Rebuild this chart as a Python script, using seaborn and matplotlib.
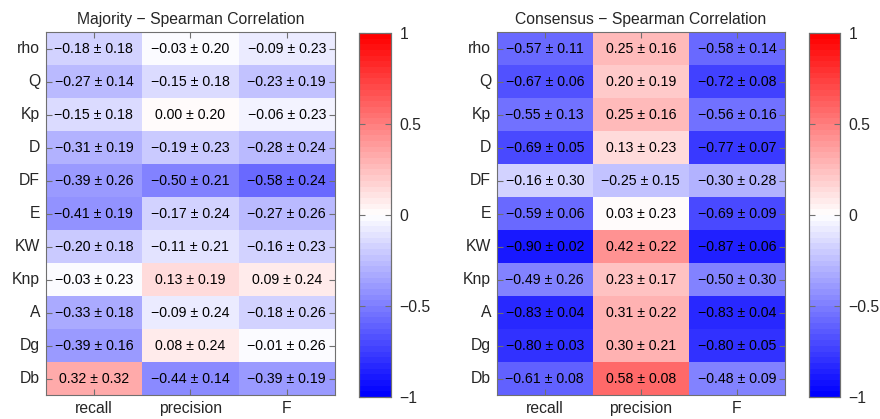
import numpy as np
import seaborn as sns
import matplotlib.pyplot as plt
from matplotlib.colors import LinearSegmentedColormap

rows = ["rho", "Q", "Kp", "D", "DF", "E", "KW", "Knp", "A", "Dg", "Db"]
cols = ["recall", "precision", "F"]

maj_mean = [[-0.18, -0.03, -0.09], [-0.27, -0.15, -0.23], [-0.15, 0.00, -0.06],
            [-0.31, -0.19, -0.28], [-0.39, -0.50, -0.58], [-0.41, -0.17, -0.27],
            [-0.20, -0.11, -0.16], [-0.03, 0.13, 0.09], [-0.33, -0.09, -0.18],
            [-0.39, 0.08, -0.01], [0.32, -0.44, -0.39]]
maj_std = [[0.18, 0.20, 0.23], [0.14, 0.18, 0.19], [0.18, 0.20, 0.23],
           [0.19, 0.23, 0.24], [0.26, 0.21, 0.24], [0.19, 0.24, 0.26],
           [0.18, 0.21, 0.23], [0.23, 0.19, 0.24], [0.18, 0.24, 0.26],
           [0.16, 0.24, 0.26], [0.32, 0.14, 0.19]]

con_mean = [[-0.57, 0.25, -0.58], [-0.67, 0.20, -0.72], [-0.55, 0.25, -0.56],
            [-0.69, 0.13, -0.77], [-0.16, -0.25, -0.30], [-0.59, 0.03, -0.69],
            [-0.90, 0.42, -0.87], [-0.49, 0.23, -0.50], [-0.83, 0.31, -0.83],
            [-0.80, 0.30, -0.80], [-0.61, 0.58, -0.48]]
con_std = [[0.11, 0.16, 0.14], [0.06, 0.19, 0.08], [0.13, 0.16, 0.16],
           [0.05, 0.23, 0.07], [0.30, 0.15, 0.28], [0.06, 0.23, 0.09],
           [0.02, 0.22, 0.06], [0.26, 0.17, 0.30], [0.04, 0.22, 0.04],
           [0.03, 0.21, 0.05], [0.08, 0.08, 0.09]]

sns.set_style("white")
plt.rcParams['font.family'] = ['Liberation Sans', 'DejaVu Sans']

cmap = LinearSegmentedColormap.from_list("bwr_m", ["#0000ff", "#ffffff", "#ff0000"], N=64)


def fmt(v):
    s = f"{abs(v):.2f}"
    return ("\u2212" + s) if v < 0 else s


def labels(m, s):
    return np.array([[f"{fmt(a)} \u00b1 {b:.2f}" for a, b in zip(ra, rb)]
                     for ra, rb in zip(m, s)])


fig = plt.figure(figsize=(8.8, 4.19), dpi=100)
W, H = 880, 419
edge = "#707070"


def panel(px, cx, mean, std, title):
    ax = fig.add_axes([px[0] / W, 1 - 395 / H, (px[1] - px[0]) / W, (395 - 32.5) / H])
    cax = fig.add_axes([cx[0] / W, 1 - 397 / H, (cx[1] - cx[0]) / W, (397 - 33) / H])
    sns.heatmap(np.array(mean), ax=ax, cbar_ax=cax, cmap=cmap, vmin=-1, vmax=1,
                annot=labels(mean, std), fmt="", annot_kws={"fontsize": 10.2, "color": "black"},
                xticklabels=cols, yticklabels=rows)
    ax.set_axisbelow(False)
    ax.set_title(title, fontsize=11.3, pad=6)
    ax.tick_params(axis="both", direction="in", length=4, width=0.8, color=edge,
                   top=True, right=True, bottom=True, left=True, labelsize=11.3, pad=4)
    ax.tick_params(axis="y", rotation=0)
    for sp in ax.spines.values():
        sp.set_visible(True)
        sp.set_color(edge)
        sp.set_linewidth(0.8)
    cax.set_axisbelow(False)
    cax.set_yticks([-1, -0.5, 0, 0.5, 1])
    cax.set_yticklabels(["\u22121", "\u22120.5", "0", "0.5", "1"])
    cax.tick_params(direction="in", length=4, width=0.8, color=edge, left=True, right=True,
                    labelsize=11.3, pad=6)
    for sp in cax.spines.values():
        sp.set_visible(True)
        sp.set_color(edge)
        sp.set_linewidth(0.8)


panel((45.7, 335), (359.3, 391), maj_mean, maj_std, "Majority \u2212 Spearman Correlation")
panel((496.7, 785), (809.3, 840), con_mean, con_std, "Consensus \u2212 Spearman Correlation")

fig.savefig("out.png", dpi=100)
